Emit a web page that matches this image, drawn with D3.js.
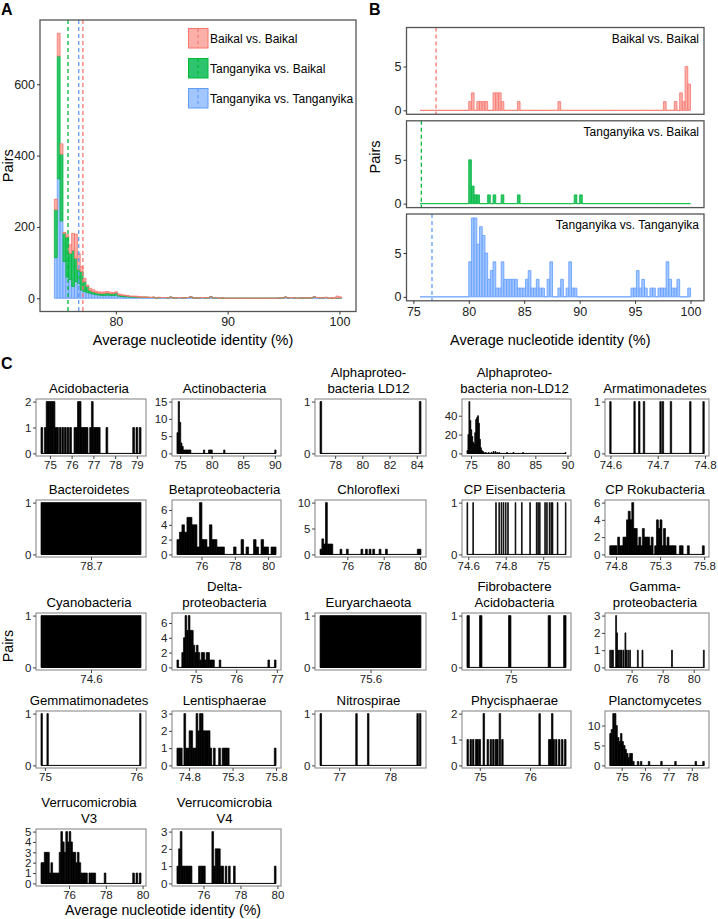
<!DOCTYPE html>
<html>
<head>
<meta charset="utf-8">
<script src="https://cdn.jsdelivr.net/npm/d3@7"></script>
<style>
  body { margin: 0; background: #fff; }
  text { font-family: "Liberation Sans", Arial, sans-serif; }
</style>
</head>
<body>
<svg id="fig" width="718" height="919"></svg>
<script>
// ---------------- data ----------------
const groups = ['Baikal vs. Baikal', 'Tanganyika vs. Baikal', 'Tanganyika vs. Tanganyika'];
const groupMeans = [77.05, 75.72, 76.68];

// panel A: stacked histogram, 100 bins from 74.5
const aBinStart = 74.5, aBinWidth = 0.257;
const aBaikalBaikal = [
  30,64,29,3,7,24,48,68,45,14, 9,4,6,6,4,4,4,4,4,4, 3,3,3,2,2,2,1,1,2,2,
  1,1,0,1,0,0,1,0,0,0, 0,0,0,0,0,0,0,0,0,0, 0,0,1,0,0,0,0,0,0,0,
  0,0,0,0,0,0,0,0,0,0, 0,0,0,0,0,0,0,0,0,0, 0,0,0,0,0,0,0,0,0,0,
  0,0,1,0,1,0,2,1,5,3];
const aTangBaikal = [
  134,344,187,79,112,73,101,65,39,52, 28,17,8,6,6,5,5,6,6,5, 5,6,3,3,3,2,2,2,1,1,
  1,1,1,0,1,0,1,0,0,0, 0,0,0,0,0,0,0,0,0,0, 0,0,0,0,0,0,1,0,1,0,
  0,0,0,0,0,0,0,0,0,0, 0,0,0,0,0,0,0,0,0,0, 0,0,0,0,0,0,0,0,0,0,
  0,0,0,0,0,0,0,0,0,0];
const aTangTang = [
  114,335,217,103,59,53,33,47,42,23, 19,16,14,12,10,9,8,8,9,8, 8,9,6,5,4,4,3,3,3,2,
  2,2,2,2,2,1,1,2,2,1, 3,1,1,2,1,1,2,4,1,1, 1,2,1,1,4,1,1,0,0,0,
  0,0,0,0,0,0,0,0,0,0, 0,0,0,0,0,0,0,0,1,1, 3,1,2,1,0,1,1,1,1,1,
  4,2,1,1,2,0,0,0,1,1];

// panel B: per group histogram, 100 bins from 75.6
const bBinStart = 75.6, bBinWidth = 0.244;
const bBaikalBaikal = [
  0,0,0,0,0,0,0,0,0,0, 0,0,0,0,0,0,0,0,1,2, 0,1,1,1,1,0,0,2,2,2,
  1,0,0,0,0,0,1,0,0,0, 0,0,0,0,0,0,0,0,0,0, 0,1,0,0,0,0,0,0,0,0,
  0,0,0,0,0,0,0,0,0,0, 0,0,0,0,0,0,0,0,0,0, 0,0,0,0,0,0,0,0,0,0,
  1,0,0,0,1,0,2,1,5,3];
const bTangBaikal = [
  0,0,0,0,0,0,0,0,0,0, 0,0,0,0,0,0,0,0,5,2, 1,1,0,0,0,1,0,1,0,0,
  1,0,0,0,0,0,1,0,0,0, 0,0,0,0,0,0,0,0,0,0, 0,0,0,0,0,0,0,1,0,1,
  0,0,0,0,0,0,0,0,0,0, 0,0,0,0,0,0,0,0,0,0, 0,0,0,0,0,0,0,0,0,0,
  0,0,0,0,0,0,0,0,0,0];
const bTangTang = [
  0,0,0,0,0,0,0,0,0,0, 0,0,0,0,0,0,0,0,4,9, 9,6,8,7,5,2,3,4,1,1,
  4,2,2,2,2,2,1,1,1,2, 3,1,1,2,1,1,0,2,4,0, 0,1,2,0,1,4,1,1,0,0,
  0,0,0,0,0,0,0,0,0,0, 0,0,0,0,0,0,0,0,1,1, 3,1,2,1,0,1,1,0,1,1,
  1,4,2,1,1,2,0,0,0,1];

// panel C: [ANI bin centre, pairs]
const acidobacteria = [[74.63,1],[74.79,1],[74.87,2],[74.95,2],[75.03,2],[75.11,2],[75.19,2],[75.27,1],[75.35,1],[75.47,1],[75.59,1],[75.71,1],[75.83,1],[75.95,1],[76.15,1],[76.23,1],[76.31,2],[76.39,2],[76.47,1],[76.55,1],[76.63,1],[76.71,1],[76.87,1],[76.95,2],[77.03,1],[77.11,1],[77.19,1],[77.27,1],[77.62,1],[78.85,1],[79.0,1],[79.15,1]];
const actinobacteria = [[74.6,6],[74.8,15],[75.0,9],[75.2,3],[75.4,2],[75.6,1],[75.8,1],[76.0,1],[76.2,1],[76.4,1],[76.6,1],[78.8,1],[79.6,1],[79.8,1],[80.0,1],[82.0,1],[90.1,1]];
const alphaLD12 = [[76.95,1],[84.25,1]];
const alphaNonLD12 = [[74.45,3],[74.6,20],[74.75,55],[74.9,35],[75.05,25],[75.2,18],[75.35,12],[75.5,10],[75.65,22],[75.8,36],[75.95,38],[76.1,40],[76.25,32],[76.4,15],[76.55,6],[76.7,3],[76.85,2],[77.0,1],[77.3,1],[77.75,1],[78.2,1],[78.5,2],[78.8,2],[79.1,1],[79.4,1],[80.6,1],[81.6,1],[83.1,1],[89.7,1]];
const armatimonadetes = [[74.600,1],[74.651,1],[74.661,1],[74.671,1],[74.706,1],[74.711,1],[74.728,1],[74.769,1],[74.797,1]];
const bacteroidetes = [[78.7,1]];
const betaproteobacteria = [[74.6,2],[74.75,3],[74.9,4],[75.05,3],[75.2,5],[75.35,5],[75.5,4],[75.65,4],[75.8,1],[75.95,7],[76.1,2],[76.25,2],[76.4,1],[76.55,4],[76.7,2],[76.85,2],[77.0,1],[77.15,1],[77.3,1],[78.0,1],[78.45,2],[78.75,1],[79.2,2],[79.35,1],[79.65,2],[79.8,1],[79.95,1],[80.25,1],[80.4,1]];
const chloroflexi = [[74.55,1],[74.65,3],[74.75,2],[74.85,10],[74.95,2],[75.05,2],[75.15,2],[75.65,1],[76.0,1],[76.8,1],[77.05,1],[77.25,1],[77.45,1],[77.8,1],[78.15,1],[79.9,1],[80.0,1]];
const cpEisenbacteria = [[74.595,1],[74.626,1],[74.748,1],[74.765,1],[74.777,1],[74.788,1],[74.8,1],[74.812,1],[74.852,1],[74.886,1],[74.93,1],[74.965,1],[74.973,1],[74.982,1],[75.01,1],[75.02,1],[75.034,1],[75.043,1],[75.05,1],[75.077,1],[75.12,1]];
const cpRokubacteria = [[74.74,1],[74.76,1],[74.78,1],[74.80,1],[74.83,2],[74.85,1],[74.87,1],[74.89,2],[74.91,2],[74.93,4],[74.95,5],[74.97,4],[74.99,6],[75.01,3],[75.03,3],[75.05,1],[75.07,2],[75.09,1],[75.11,3],[75.13,2],[75.15,2],[75.17,2],[75.19,1],[75.21,2],[75.25,1],[75.27,4],[75.29,3],[75.31,4],[75.33,1],[75.35,3],[75.37,1],[75.39,2],[75.41,1],[75.43,1],[75.45,1],[75.47,1],[75.53,1],[75.55,1],[75.62,1],[75.79,1]];
const cyanobacteria = [[74.6,1]];
const deltaproteobacteria = [[74.56,1],[74.68,2],[74.72,4],[74.76,7],[74.80,5],[74.84,7],[74.88,5],[74.92,5],[74.96,3],[75.00,2],[75.04,3],[75.08,2],[75.12,1],[75.16,2],[75.20,2],[75.24,1],[75.28,2],[75.32,2],[75.36,1],[75.40,1],[75.44,1],[75.60,1],[76.80,1],[76.96,1]];
const euryarchaeota = [[75.6,1]];
const fibrobactereAcido = [[74.956,1],[74.969,1],[74.999,1],[75.040,1],[75.056,1]];
const gammaproteobacteria = [[74.62,1],[74.72,1],[74.8,1],[75.0,3],[75.06,2],[75.12,1],[75.2,1],[75.3,1],[75.36,1],[75.48,1],[75.6,2],[75.66,1],[75.78,1],[75.9,1],[76.4,1],[76.7,1],[78.6,1],[80.65,1]];
const gemmatimonadetes = [[74.965,1],[75.03,1],[76.045,1]];
const lentisphaerae = [[74.67,1],[74.69,1],[74.71,1],[74.75,3],[74.77,1],[74.79,1],[74.81,2],[74.83,2],[74.85,1],[74.87,1],[74.89,3],[74.91,2],[74.93,3],[74.95,3],[74.97,2],[74.99,2],[75.01,2],[75.03,2],[75.05,1],[75.09,1],[75.15,1],[75.19,1],[75.21,1],[75.23,1],[75.25,1],[75.79,1]];
const nitrospirae = [[76.64,1],[77.34,1],[77.57,1],[78.54,1],[78.59,1]];
const phycisphaerae = [[74.76,1],[74.82,1],[74.87,1],[74.93,1],[74.96,1],[75.0,1],[75.08,2],[75.16,1],[75.22,1],[75.27,1],[75.32,1],[75.35,1],[75.40,2],[75.45,1],[76.19,2],[76.38,1],[76.41,1],[76.44,2],[76.47,1],[76.52,1],[76.58,1],[76.64,1],[76.70,1]];
const planctomycetes = [[74.52,8],[74.58,9],[74.65,13],[74.72,13],[74.78,10],[74.85,7],[74.91,6],[74.98,8],[75.04,6],[75.11,5],[75.17,4],[75.24,3],[75.30,2],[75.37,3],[75.43,3],[75.50,1],[75.70,1],[75.83,1],[76.17,1],[76.70,1],[77.30,1],[78.17,1],[78.50,1]];
const verrucoV3 = [[74.52,2],[74.61,2],[74.70,3],[74.79,3],[74.88,3],[74.97,1],[75.06,2],[75.15,1],[75.24,1],[75.33,1],[75.42,1],[75.51,3],[75.60,5],[75.69,4],[75.78,3],[75.87,5],[75.96,4],[76.05,5],[76.14,4],[76.23,3],[76.32,3],[76.41,2],[76.50,3],[76.59,2],[76.68,1],[76.77,1],[76.86,1],[76.95,1],[77.13,1],[77.22,1],[77.31,1],[77.40,1],[77.96,1],[79.51,1],[79.69,1],[79.87,1]];
const verrucoV4 = [[74.61,1],[74.70,2],[74.79,3],[74.88,1],[74.97,1],[75.06,1],[75.15,1],[75.24,1],[75.33,1],[75.78,1],[75.87,1],[75.96,1],[76.05,1],[76.50,3],[76.59,1],[76.68,2],[76.77,2],[76.86,2],[76.95,1],[77.04,1],[77.22,1],[77.40,1],[77.67,1],[79.88,1]];

const cTitles = [
  ['Acidobacteria'], ['Actinobacteria'], ['Alphaproteo-', 'bacteria LD12'], ['Alphaproteo-', 'bacteria non-LD12'], ['Armatimonadetes'],
  ['Bacteroidetes'], ['Betaproteobacteria'], ['Chloroflexi'], ['CP Eisenbacteria'], ['CP Rokubacteria'],
  ['Cyanobacteria'], ['Delta-', 'proteobacteria'], ['Euryarchaeota'], ['Fibrobactere', 'Acidobacteria'], ['Gamma-', 'proteobacteria'],
  ['Gemmatimonadetes'], ['Lentisphaerae'], ['Nitrospirae'], ['Phycisphaerae'], ['Planctomycetes'],
  ['Verrucomicrobia', 'V3'], ['Verrucomicrobia', 'V4']];
const cBars = [acidobacteria, actinobacteria, alphaLD12, alphaNonLD12, armatimonadetes,
  bacteroidetes, betaproteobacteria, chloroflexi, cpEisenbacteria, cpRokubacteria,
  cyanobacteria, deltaproteobacteria, euryarchaeota, fibrobactereAcido, gammaproteobacteria,
  gemmatimonadetes, lentisphaerae, nitrospirae, phycisphaerae, planctomycetes,
  verrucoV3, verrucoV4];
const cBinWidth = [0.08, 0.2, 0.12, 0.15, 0.003,
  0.1, 0.15, 0.1, 0.004, 0.022,
  0.1, 0.04, 0.1, 0.0025, 0.06,
  0.015, 0.02, 0.03, 0.03, 0.065,
  0.09, 0.09];
const cXTicks = [[75,76,77,78,79], [75,80,85,90], [78,80,82,84], [75,80,85,90], [74.6,74.7,74.8],
  [78.7], [76,78,80], [76,78,80], [74.6,74.8,75], [74.8,75.3,75.8],
  [74.6], [75,76,77], [75.6], [75], [76,78,80],
  [75,76], [74.8,75.3,75.8], [77,78], [75,76], [75,76,77,78],
  [76,78,80], [76,78,80]];
const cYTicks = [[0,1,2], [0,5,10,15], [0,1], [0,20,40], [0,1],
  [0,1], [0,2,4,6], [0,5,10], [0,1], [0,2,4,6],
  [0,1], [0,2,4,6], [0,1], [0,1], [0,1,2,3],
  [0,1], [0,1,2,3], [0,1], [0,1,2], [0,5,10],
  [0,1,2,3,4,5], [0,1,2,3]];

// ---------------- style ----------------
const groupStroke = ['#F8766D', '#00BA38', '#619CFF'];
const groupFill = ['#FAAFA9', '#2EC46E', '#A2C6FF'];

const svg = d3.select('#fig');
const plain = d => String(d);

function styleAxis(g, size, tickColor) {
  g.select('.domain').remove();
  g.selectAll('.tick line').attr('stroke', tickColor).attr('stroke-width', 1);
  g.selectAll('.tick text').attr('fill', '#222').style('font-size', size + 'px')
    .style('font-family', '"Liberation Sans", Arial, sans-serif');
}

function barPath(x, y, x0, x1, y0, y1) {
  return 'M' + x(x0) + ',' + y(y0) + 'V' + y(y1) + 'H' + x(x1) + 'V' + y(y0) + 'Z';
}

// panel letters
[['A', 1, 15], ['B', 369, 15], ['C', 1, 369]].forEach(function (l) {
  svg.append('text').attr('x', l[1]).attr('y', l[2]).text(l[0])
    .style('font-weight', 'bold').style('font-size', '16px');
});

// ================= Panel A =================
(function () {
  const left = 40, right = 356, top = 20, bottom = 311.5;
  const g = svg.append('g').attr('id', 'panel-a');

  const rows = aTangTang.map(function (_, i) {
    return {
      x0: aBinStart + i * aBinWidth,
      x1: aBinStart + (i + 1) * aBinWidth,
      tt: aTangTang[i], tb: aTangBaikal[i], bb: aBaikalBaikal[i]
    };
  });
  const stack = d3.stack().keys(['tt', 'tb', 'bb'])(rows);
  const keyIndex = { bb: 0, tb: 1, tt: 2 };

  const lo = aBinStart, hi = aBinStart + aTangTang.length * aBinWidth;
  const xpad = (hi - lo) * 0.05;
  const x = d3.scaleLinear().domain([lo - xpad, hi + xpad]).range([left, right]);
  const ymax = d3.max(rows, d => d.tt + d.tb + d.bb);
  const y = d3.scaleLinear().domain([-0.05 * ymax, ymax * 1.05]).range([bottom, top]);

  stack.forEach(function (layer) {
    const k = keyIndex[layer.key];
    g.append('g').selectAll('path').data(layer).join('path')
      .attr('d', d => barPath(x, y, d.data.x0, d.data.x1, d[0], d[1]))
      .attr('fill', groupFill[k]).attr('stroke', groupStroke[k]).attr('stroke-width', 0.8);
  });

  groupMeans.forEach(function (m, k) {
    g.append('line').attr('x1', x(m)).attr('x2', x(m)).attr('y1', top).attr('y2', bottom)
      .attr('stroke', groupStroke[k]).attr('stroke-width', 1.3).attr('stroke-dasharray', '4,3');
  });

  g.append('rect').attr('x', left).attr('y', top).attr('width', right - left).attr('height', bottom - top)
    .attr('fill', 'none').attr('stroke', '#555').attr('stroke-width', 1.3);

  g.append('g').attr('transform', 'translate(' + left + ',0)')
    .call(d3.axisLeft(y).tickValues([0, 200, 400, 600]).tickFormat(plain).tickSize(3).tickPadding(2))
    .call(a => styleAxis(a, 12.5, '#333'));
  g.append('g').attr('transform', 'translate(0,' + bottom + ')')
    .call(d3.axisBottom(x).tickValues([80, 90, 100]).tickFormat(plain).tickSize(3).tickPadding(3))
    .call(a => styleAxis(a, 12.5, '#333'));

  g.append('text').attr('transform', 'translate(13,' + ((top + bottom) / 2) + ') rotate(-90)')
    .attr('text-anchor', 'middle').style('font-size', '14.5px').text('Pairs');
  g.append('text').attr('x', (left + right) / 2 - 5).attr('y', 345)
    .attr('text-anchor', 'middle').style('font-size', '14.5px').text('Average nucleotide identity (%)');

  // legend
  const leg = g.append('g').attr('transform', 'translate(188,28)');
  groups.forEach(function (name, k) {
    const row = leg.append('g').attr('transform', 'translate(0,' + (k * 30) + ')');
    row.append('rect').attr('x', 0.5).attr('y', 0.5).attr('width', 19.5).attr('height', 19.5)
      .attr('fill', groupFill[k]).attr('stroke', groupStroke[k]).attr('stroke-width', 1);
    row.append('line').attr('x1', 10).attr('x2', 10).attr('y1', 1).attr('y2', 20)
      .attr('stroke', groupStroke[k]).attr('stroke-width', 1.2).attr('stroke-dasharray', '3,3');
    row.append('text').attr('x', 22).attr('y', 14.5).style('font-size', '12px').text(name);
  });
})();

// ================= Panel B =================
(function () {
  const left = 406.5, right = 704;
  const facetTops = [27.5, 120.8, 214];
  const facetH = 86.8;
  const bSeries = [bBaikalBaikal, bTangBaikal, bTangTang];
  const g = svg.append('g').attr('id', 'panel-b');

  const lo = bBinStart, hi = bBinStart + bTangTang.length * bBinWidth;
  const xpad = (hi - lo) * 0.05;
  const x = d3.scaleLinear().domain([lo - xpad, hi + xpad]).range([left, right]);
  const ymax = d3.max(bSeries, s => d3.max(s));

  bSeries.forEach(function (counts, k) {
    const top = facetTops[k], bottom = top + facetH;
    const y = d3.scaleLinear().domain([-0.05 * ymax, ymax * 1.05]).range([bottom, top]);
    const fg = g.append('g');

    fg.append('g').selectAll('path').data(counts).join('path')
      .attr('d', (c, i) => barPath(x, y, lo + i * bBinWidth, lo + (i + 1) * bBinWidth, 0, c))
      .attr('fill', groupFill[k]).attr('stroke', groupStroke[k]).attr('stroke-width', 0.8);

    fg.append('line').attr('x1', x(groupMeans[k])).attr('x2', x(groupMeans[k]))
      .attr('y1', top).attr('y2', bottom)
      .attr('stroke', groupStroke[k]).attr('stroke-width', 1.3).attr('stroke-dasharray', '4,3');

    fg.append('rect').attr('x', left).attr('y', top).attr('width', right - left).attr('height', facetH)
      .attr('fill', 'none').attr('stroke', '#555').attr('stroke-width', 1.3);

    fg.append('text').attr('x', right - 5).attr('y', top + 15).attr('text-anchor', 'end')
      .style('font-size', '12px').text(groups[k]);

    fg.append('g').attr('transform', 'translate(' + left + ',0)')
      .call(d3.axisLeft(y).tickValues([0, 5]).tickFormat(plain).tickSize(3).tickPadding(2))
      .call(a => styleAxis(a, 12.5, '#333'));

    if (k === 2) {
      fg.append('g').attr('transform', 'translate(0,' + bottom + ')')
        .call(d3.axisBottom(x).tickValues([75, 80, 85, 90, 95, 100]).tickFormat(plain).tickSize(3).tickPadding(3))
        .call(a => styleAxis(a, 12.5, '#333'));
    }
  });

  g.append('text').attr('transform', 'translate(380,157) rotate(-90)')
    .attr('text-anchor', 'middle').style('font-size', '14.5px').text('Pairs');
  g.append('text').attr('x', (left + right) / 2 - 5).attr('y', 345)
    .attr('text-anchor', 'middle').style('font-size', '14.5px').text('Average nucleotide identity (%)');
})();

// ================= Panel C =================
(function () {
  const colLeft = [36, 172, 315, 462, 605];
  const colRight = [146, 281, 426, 571, 709];
  const rowTop = [399, 500, 613, 711, 829];
  const panelH = 57;
  const g = svg.append('g').attr('id', 'panel-c');

  cTitles.forEach(function (title, i) {
    const col = i % 5, row = Math.floor(i / 5);
    const left = colLeft[col], right = colRight[col];
    const top = rowTop[row], bottom = top + panelH;
    const bars = cBars[i], w = cBinWidth[i];

    const lo = d3.min(bars, d => d[0]) - w / 2;
    const hi = d3.max(bars, d => d[0]) + w / 2;
    const xpad = (hi - lo) * 0.05;
    const x = d3.scaleLinear().domain([lo - xpad, hi + xpad]).range([left, right]);
    const ymax = d3.max(bars, d => d[1]);
    const y = d3.scaleLinear().domain([-0.05 * ymax, ymax * 1.05]).range([bottom, top]);

    const pg = g.append('g');

    // zero-count bins show as a baseline
    pg.append('line').attr('x1', x(lo)).attr('x2', x(hi)).attr('y1', y(0)).attr('y2', y(0))
      .attr('stroke', '#000').attr('stroke-width', 1);

    pg.append('g').selectAll('path').data(bars).join('path')
      .attr('d', d => barPath(x, y, d[0] - w / 2, d[0] + w / 2, 0, d[1]))
      .attr('fill', '#000').attr('stroke', '#000').attr('stroke-width', 0.7);

    pg.append('rect').attr('x', left).attr('y', top).attr('width', right - left).attr('height', panelH)
      .attr('fill', 'none').attr('stroke', '#8a8a8a').attr('stroke-width', 1.1);

    pg.append('g').attr('transform', 'translate(' + left + ',0)')
      .call(d3.axisLeft(y).tickValues(cYTicks[i]).tickFormat(plain).tickSize(3).tickPadding(1.5))
      .call(a => styleAxis(a, 11.5, '#444'));
    pg.append('g').attr('transform', 'translate(0,' + bottom + ')')
      .call(d3.axisBottom(x).tickValues(cXTicks[i]).tickFormat(plain).tickSize(3).tickPadding(1.5))
      .call(a => styleAxis(a, 11.5, '#444'));

    const n = title.length;
    title.forEach(function (line, j) {
      pg.append('text').attr('x', (left + right) / 2 - 2)
        .attr('y', top - 6.5 - (n - 1 - j) * 16)
        .attr('text-anchor', 'middle').style('font-size', '13.2px').text(line);
    });
  });

  g.append('text').attr('transform', 'translate(13,646) rotate(-90)')
    .attr('text-anchor', 'middle').style('font-size', '14.2px').text('Pairs');
  g.append('text').attr('x', 163).attr('y', 915)
    .attr('text-anchor', 'middle').style('font-size', '14.2px').text('Average nucleotide identity (%)');
})();
</script>
</body>
</html>
